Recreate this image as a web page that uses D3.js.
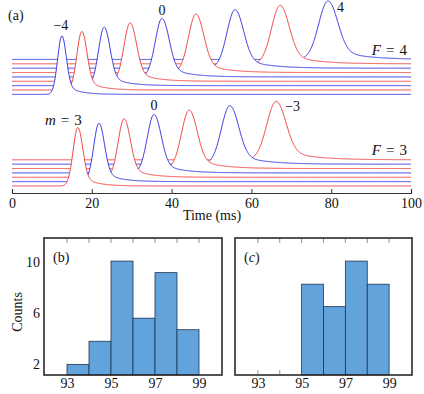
<!DOCTYPE html>
<html>
<head>
<meta charset="utf-8">
<script src="https://cdn.jsdelivr.net/npm/d3@7"></script>
<style>
  body { margin: 0; background: #fff; }
  svg text { font-family: "Liberation Serif", "Times New Roman", Times, "DejaVu Serif", serif !important; fill: #111; }
</style>
</head>
<body>
<div id="chart-area"></div>
<script>
// (a) arrival-time traces, one per m state
const f4M = [-4, -3, -2, -1, 0, 1, 2, 3, 4];
const f4Peak = [12.5, 17.5, 23.1, 29.6, 37.6, 46.1, 55.9, 67.2, 79.2];   // ms
const f4Width = [2.5, 2.9, 3.3, 3.6, 4.0, 4.4, 4.8, 5.1, 5.5];          // FWHM, ms
const f3M = [3, 2, 1, 0, -1, -2, -3];
const f3Peak = [16.5, 21.8, 28.1, 35.6, 44.4, 54.6, 66.2];
const f3Width = [2.8, 3.1, 3.5, 4.0, 4.5, 5.0, 5.5];
const timeTicks = [0, 20, 40, 60, 80, 100];

// (b), (c) histograms
const binsB = [93, 94, 95, 96, 97, 98];
const countsB = [2.0, 3.8, 10.05, 5.6, 9.15, 4.7];
const binsC = [95, 96, 97, 98];
const countsC = [8.25, 6.5, 10.05, 8.25];
const countTicks = [2, 6, 10];
const valueTicks = [93, 95, 97, 99];
const minorTicks = [93, 94, 95, 96, 97, 98, 99];

const W = 424, H = 394;
const FONT = '"Liberation Serif", "Times New Roman", serif';
const svg = d3.select("#chart-area").append("svg")
    .attr("width", W).attr("height", H)
    .style("font-family", FONT);

const BLUE = "#2424e0", RED = "#f03030";
const colorOf = (m) => Math.abs(m) % 2 === 1 ? RED : BLUE;

// ---------- panel (a) ----------
const x = d3.scaleLinear().domain([0, 100]).range([12, 411]);
const y = d3.scaleLinear().domain([0, 3.165]).range([186, 1]);
const step = 0.0747;          // vertical offset between traces
const f4Base = 1.5675;

function profile(t, t0, fw) {
    const s = fw / 2.3548;
    const dt = t - t0;
    const g = Math.exp(-dt * dt / (2 * s * s));
    let tail = 0;
    if (dt > 0) tail = 0.22 * (1 - g) * Math.exp(-dt / (1.2 * fw));
    return g + tail;
}

const ts = d3.range(0, 100.001, 0.1);

function drawGroup(ms, peaks, widths, base) {
    const traces = ms.map((m, i) => ({
        m: m, off: base + i * step, t0: peaks[i], fw: widths[i]
    }));
    // back traces first, front (lowest) trace last
    traces.slice().reverse().forEach(tr => {
        const pts = ts.map(t => [t, tr.off + profile(t, tr.t0, tr.fw)]);
        const area = d3.area()
            .x(d => x(d[0]))
            .y0(y(tr.off))
            .y1(d => y(d[1]));
        const line = d3.line()
            .x(d => x(d[0]))
            .y(d => y(d[1]));
        svg.append("path").attr("d", area(pts))
            .attr("fill", "#fff").attr("stroke", "none");
        svg.append("path").attr("d", line(pts))
            .attr("fill", "none")
            .attr("stroke", colorOf(tr.m))
            .attr("stroke-width", 0.9);
    });
}

drawGroup(f4M, f4Peak, f4Width, f4Base);
drawGroup(f3M, f3Peak, f3Width, 0);

const axA = svg.append("g")
    .attr("transform", "translate(0,193)")
    .call(d3.axisBottom(x).tickValues(timeTicks).tickSize(-4).tickPadding(5));
axA.attr("font-family", null);
axA.select(".domain").attr("stroke", "#333").attr("stroke-width", 1.2);
axA.selectAll(".tick line").attr("stroke", "#333");
axA.selectAll("text").style("font-size", "14px").attr("fill", "#111");

svg.append("text").attr("x", 212).attr("y", 220)
    .attr("text-anchor", "middle").style("font-size", "14px").text("Time (ms)");

svg.append("text").attr("x", 8).attr("y", 20).style("font-size", "14px").text("(a)");

// state labels
const lab = (tx, ty, txt, anchor) => svg.append("text")
    .attr("x", tx).attr("y", ty).style("font-size", "14px")
    .attr("text-anchor", anchor || "middle").text(txt);
lab(x(f4Peak[0]) - 1, 30, "\u22124");
lab(x(f4Peak[4]), 15, "0");
lab(x(f4Peak[8]) + 9, 12, "4", "start");
lab(x(f3Peak[3]), 110, "0");
lab(x(f3Peak[6]) + 9, 111, "\u22123", "start");

function mathLabel(tx, ty, v, val, anchor) {
    const t = svg.append("text").attr("x", tx).attr("y", ty)
        .style("font-size", "15px").attr("text-anchor", anchor);
    t.append("tspan").attr("font-style", "italic").text(v);
    t.append("tspan").text("\u2004=\u2004" + val);
}
mathLabel(407, 55, "F", "4", "end");
mathLabel(407, 155, "F", "3", "end");
mathLabel(45, 125, "m", "3", "start");

// ---------- panels (b), (c) ----------
function histPanel(x0, x1, bins, counts, tag, italicTag, showY) {
    const top = 238, bottom = 375;
    const hx = d3.scaleLinear().domain([92, 100]).range([x0 + 1, x1 - 1]);
    const hy = d3.scaleLinear().domain([1.17, 11.85]).range([bottom, top]);
    const g = svg.append("g");

    g.selectAll("rect.bar").data(bins).enter().append("rect")
        .attr("class", "bar")
        .attr("x", d => hx(d))
        .attr("y", (d, i) => hy(counts[i]))
        .attr("width", d => hx(d + 1) - hx(d))
        .attr("height", (d, i) => bottom - hy(counts[i]))
        .attr("fill", "#63a3db")
        .attr("stroke", "#1d3550")
        .attr("stroke-width", 0.8);

    // inward ticks top and bottom
    minorTicks.forEach(v => {
        g.append("line").attr("x1", hx(v)).attr("x2", hx(v))
            .attr("y1", top).attr("y2", top + 5)
            .attr("stroke", "#888").attr("stroke-width", 0.9);
    });
    minorTicks.filter(v => !bins.includes(v) && !bins.includes(v - 1)).forEach(v => {
        g.append("line").attr("x1", hx(v)).attr("x2", hx(v))
            .attr("y1", bottom).attr("y2", bottom - 5)
            .attr("stroke", "#888").attr("stroke-width", 0.9);
    });

    g.append("rect").attr("x", x0).attr("y", top)
        .attr("width", x1 - x0).attr("height", bottom - top)
        .attr("fill", "none").attr("stroke", "#2a2a2a").attr("stroke-width", 1.6);

    const ax = g.append("g").attr("transform", "translate(0," + bottom + ")")
        .call(d3.axisBottom(hx).tickValues(valueTicks).tickSize(0).tickPadding(3));
    ax.attr("font-family", null);
    ax.select(".domain").remove();
    ax.selectAll("text").style("font-size", "14px").attr("fill", "#111");

    if (showY) {
        const ay = g.append("g").attr("transform", "translate(" + (x0 - 4) + ",0)")
            .call(d3.axisLeft(hy).tickValues(countTicks).tickSize(0).tickPadding(0));
        ay.attr("font-family", null);
        ay.select(".domain").remove();
        ay.selectAll("text").style("font-size", "14px").attr("fill", "#111");
        g.append("text")
            .attr("transform", "translate(22,312) rotate(-90)")
            .attr("text-anchor", "middle").style("font-size", "14px").text("Counts");
    }

    const t = g.append("text").attr("x", x0 + 9).attr("y", 262).style("font-size", "14px");
    t.append("tspan").text("(");
    t.append("tspan").attr("font-style", italicTag ? "italic" : "normal").text(tag);
    t.append("tspan").text(")");
}

histPanel(44, 222, binsB, countsB, "b", false, true);
histPanel(235, 412, binsC, countsC, "c", true, false);
</script>
</body>
</html>
